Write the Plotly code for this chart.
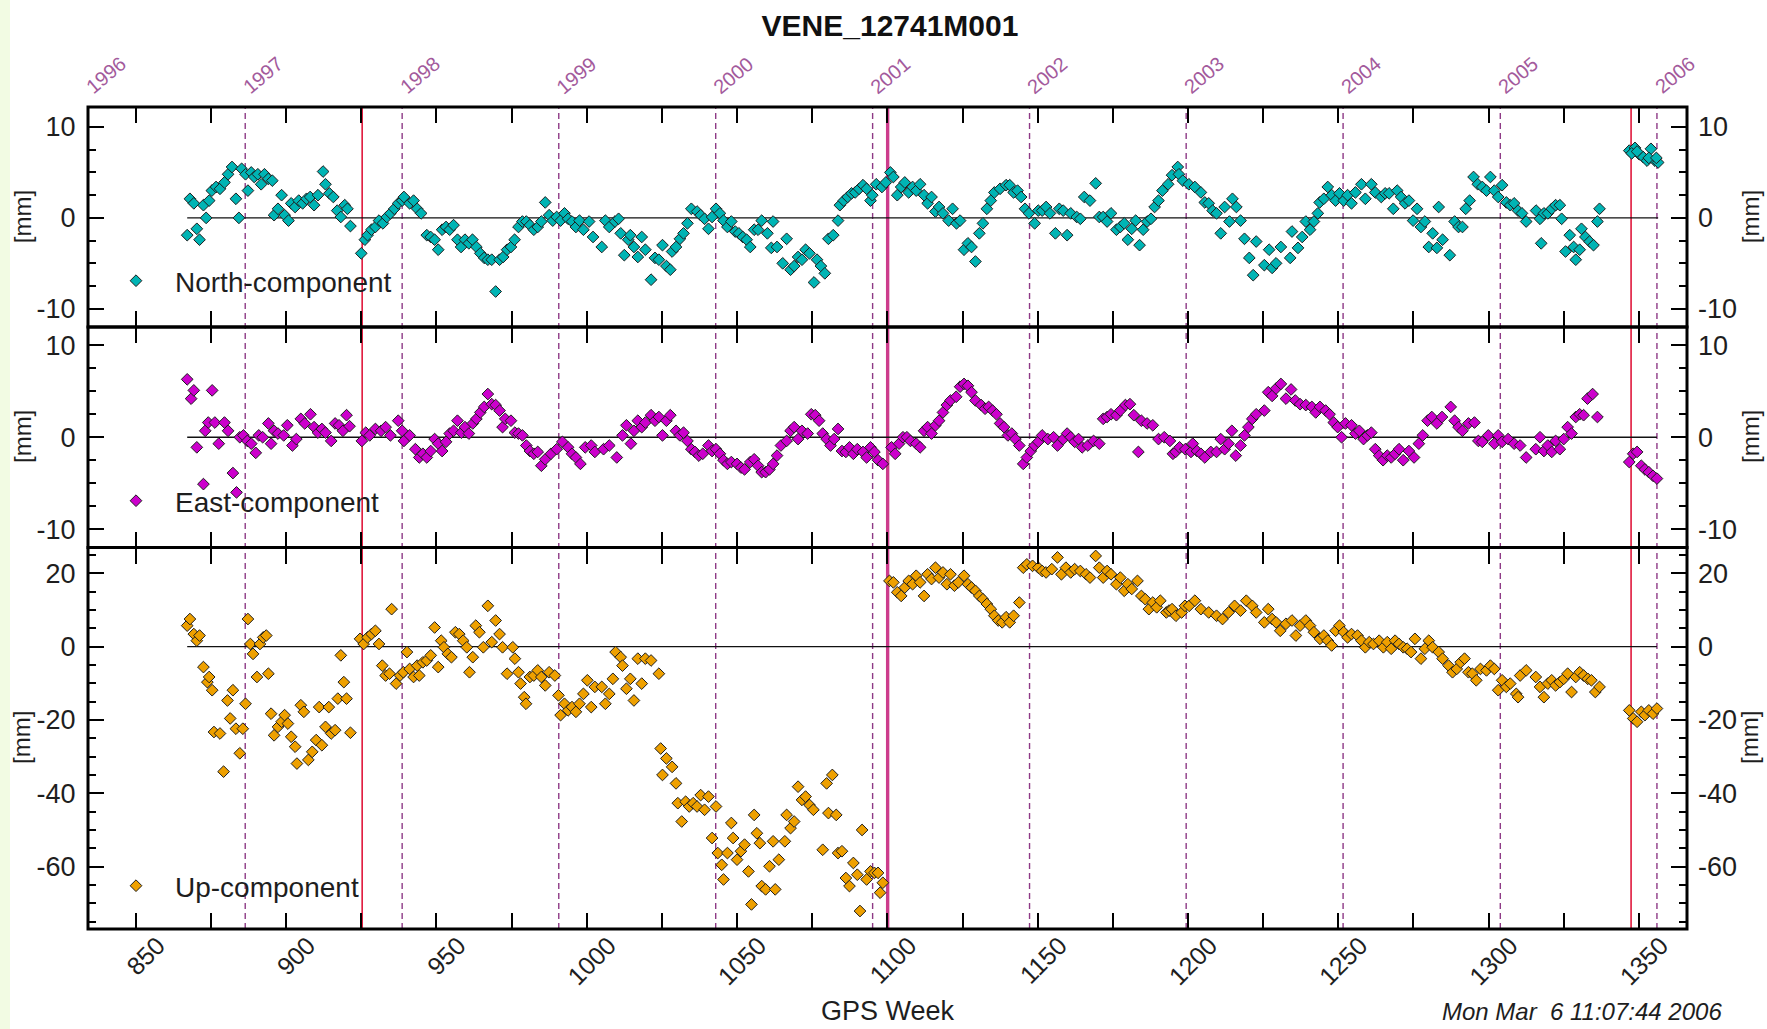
import plotly.graph_objects as go

# ---------------- text ----------------
title_text = "VENE_12741M001"
timestamp_text = "Mon Mar\u00a0 6 11:07:44 2006"
x_title = "GPS Week"
y_unit = "[mm]"
legend_names = ["North-component", "East-component", "Up-component"]

# ---------------- axes / reference lines ----------------
week_range = [834.1, 1366.0]
north_range = [-12.0, 12.2]
east_range = [-12.0, 12.0]
up_range = [-77.0, 27.0]
ne_ticks = [-10, 0, 10]
ne_ticktext = ["-10", "0", "10"]
up_ticks = [-60, -40, -20, 0, 20]
up_ticktext = ["-60", "-40", "-20", "0", "20"]
year_labels = ["1996", "1997", "1998", "1999", "2000", "2001", "2002", "2003", "2004", "2005", "2006"]
year_start_week = [834.1, 886.4, 938.6, 990.7, 1042.9, 1095.1, 1147.3, 1199.4, 1251.6, 1303.9, 1356.0]
event_week_thin = [925.3, 1347.4]
event_week_thick = [1100.1]

# ---------------- data (GPS week, mm) ----------------
north_week = [
    867.1, 868.0, 869.3, 870.3, 871.2, 872.5, 873.4, 874.4, 875.3, 876.7,
    878.0, 879.5, 880.7, 882.0, 883.3, 884.3, 885.2, 886.5, 887.3, 888.4,
    889.4, 890.6, 891.7, 892.8, 894.1, 895.4, 896.0, 897.3, 898.5, 899.5,
    900.8, 901.7, 903.0, 904.2, 905.5, 906.8, 908.0, 909.3, 910.6, 912.3,
    913.1, 914.4, 915.7, 917.0, 918.2, 919.5, 920.4, 921.4, 925.0, 926.2,
    927.1, 928.4, 929.7, 930.9, 932.2, 933.5, 934.7, 936.0, 937.3, 938.6,
    939.2, 941.1, 942.4, 943.6, 944.9, 946.8, 948.1, 949.4, 950.6, 951.9,
    953.2, 954.4, 955.7, 957.0, 958.2, 959.5, 960.8, 962.0, 963.3, 964.6,
    965.9, 967.1, 968.4, 969.7, 971.0, 972.2, 973.5, 974.8, 976.0, 977.3,
    978.6, 979.9, 981.1, 982.4, 983.7, 984.9, 986.2, 987.5, 988.7, 990.0,
    991.3, 992.6, 993.8, 995.1, 996.4, 997.6, 998.9, 1000.8, 1002.1, 1005.0,
    1006.2, 1007.5, 1009.4, 1010.6, 1011.3, 1012.5, 1013.8, 1014.5, 1015.7, 1017.0,
    1018.3, 1019.5, 1021.4, 1022.7, 1024.0, 1025.2, 1026.5, 1027.8, 1028.4, 1029.7,
    1031.0, 1032.2, 1033.5, 1034.8, 1036.7, 1037.9, 1039.2, 1040.5, 1041.7, 1043.0,
    1044.3, 1045.5, 1046.8, 1048.1, 1049.4, 1050.6, 1051.9, 1053.2, 1054.4, 1055.7,
    1057.0, 1058.2, 1060.1, 1061.4, 1062.0, 1063.3, 1065.2, 1066.5, 1067.8, 1069.0,
    1070.3, 1071.6, 1072.8, 1074.1, 1075.6, 1076.6, 1077.9, 1079.2, 1080.4, 1082.0,
    1083.6, 1084.2, 1085.5, 1086.8, 1088.1, 1089.3, 1090.6, 1091.9, 1093.1, 1094.4,
    1095.0, 1096.3, 1098.2, 1099.5, 1101.0, 1102.0, 1103.3, 1104.6, 1105.8, 1107.1,
    1108.4, 1109.6, 1110.9, 1112.2, 1113.4, 1114.7, 1116.0, 1117.2, 1118.5, 1120.4,
    1121.7, 1123.0, 1124.2, 1125.5, 1126.8, 1128.0, 1129.3, 1130.6, 1131.8, 1133.1,
    1134.4, 1135.6, 1137.5, 1139.5, 1140.7, 1142.0, 1143.3, 1144.5, 1145.8, 1147.1,
    1149.0, 1150.2, 1151.5, 1152.8, 1154.1, 1155.9, 1157.2, 1158.5, 1159.8, 1161.0,
    1163.0, 1164.2, 1165.5, 1167.4, 1169.3, 1170.5, 1171.8, 1173.1, 1174.4, 1176.2,
    1177.5, 1178.8, 1180.0, 1181.3, 1182.6, 1183.9, 1185.1, 1186.4, 1187.7, 1188.9,
    1190.2, 1191.5, 1193.4, 1194.7, 1196.6, 1197.0, 1198.3, 1200.3, 1202.3, 1204.3,
    1205.6, 1206.9, 1208.2, 1209.5, 1210.9, 1212.2, 1213.8, 1214.8, 1216.1, 1217.5,
    1218.8, 1220.4, 1221.7, 1222.7, 1225.4, 1227.0, 1228.0, 1229.3, 1230.9, 1234.0,
    1234.6, 1236.6, 1238.0, 1239.2, 1240.6, 1241.9, 1243.2, 1243.8, 1245.2, 1246.5,
    1247.8, 1249.1, 1250.4, 1251.8, 1253.1, 1254.4, 1255.7, 1257.7, 1259.0, 1261.0,
    1262.3, 1264.3, 1265.6, 1266.9, 1268.3, 1269.6, 1270.9, 1272.2, 1273.5, 1274.9,
    1276.2, 1277.5, 1278.8, 1280.1, 1281.4, 1282.8, 1283.4, 1284.7, 1287.1, 1288.7,
    1290.0, 1291.3, 1292.4, 1293.7, 1295.0, 1296.4, 1297.9, 1299.3, 1300.6, 1301.9,
    1303.2, 1304.5, 1305.9, 1307.2, 1308.5, 1309.8, 1311.1, 1312.5, 1315.8, 1317.1,
    1317.5, 1318.4, 1319.7, 1321.0, 1322.3, 1323.7, 1324.3, 1325.6, 1327.0, 1328.3,
    1329.0, 1330.3, 1330.9, 1332.2, 1333.6, 1334.9, 1336.2, 1336.9, 1346.8, 1348.7,
    1350.1, 1351.4, 1352.7, 1354.0, 1355.3, 1356.4, 1347.6, 1349.4, 1353.3, 1355.8,
]
north_mm = [
    -1.9, 2.1, 1.6, -1.2, -2.4, 1.4, 0.0, 1.9, 3.0, 3.4,
    3.2, 3.9, 4.8, 5.6, 2.1, 0.0, 5.4, 4.8, 3.0, 5.0,
    4.5, 4.8, 3.7, 4.8, 4.3, 4.1, 0.3, 1.0, 2.5, 0.3,
    -0.3, 1.6, 1.2, 1.9, 1.6, 2.1, 2.3, 1.4, 2.5, 5.1,
    3.7, 2.7, 2.3, 0.8, 0.1, 1.4, 1.0, -0.9, -3.9, -2.4,
    -1.9, -1.3, -1.0, -0.3, -0.6, 0.1, 0.5, 1.0, 1.6, 1.9,
    2.3, 1.6, 1.9, 1.0, 0.5, -1.9, -2.1, -2.4, -3.5, -1.3,
    -1.0, -1.3, -0.8, -2.4, -3.2, -2.4, -2.8, -2.4, -3.2, -3.9,
    -4.4, -4.6, -4.6, -8.1, -4.6, -4.3, -3.5, -3.2, -2.4, -1.0,
    -0.4, -0.4, -0.8, -1.3, -1.0, -0.4, 1.7, 0.3, -0.3, 0.1,
    -0.3, 0.5, -0.1, -0.4, -1.0, -0.3, -1.3, -0.4, -2.1, -3.2,
    -0.3, -1.0, -0.4, -0.1, -1.7, -4.1, -2.4, -1.9, -3.2, -4.3,
    -2.1, -3.5, -6.8, -4.4, -4.6, -3.0, -5.3, -5.7, -3.7, -3.2,
    -2.3, -1.7, -0.6, 1.0, 0.7, 0.3, -0.1, -1.2, 0.1, 1.0,
    0.5, -0.3, -1.0, -0.4, -1.5, -1.7, -2.1, -2.4, -3.2, -1.3,
    -1.3, -0.3, -1.7, -3.3, -0.4, -3.2, -5.0, -2.3, -5.7, -5.3,
    -4.3, -4.6, -3.5, -3.9, -7.1, -4.6, -5.3, -6.1, -2.3, -1.9,
    -0.3, 1.4, 1.9, 2.3, 2.7, 2.8, 3.2, 3.6, 3.2, 1.9,
    2.5, 3.7, 3.4, 3.9, 5.0, 4.5, 2.5, 3.4, 3.9, 2.8,
    3.4, 3.0, 3.7, 2.5, 1.6, 2.3, 0.7, 1.2, 0.5, -0.3,
    1.0, -0.6, -0.3, -3.5, -2.8, -3.2, -4.8, -1.7, -0.6, 1.0,
    1.9, 2.8, 3.2, 3.6, 3.6, 2.8, 3.0, 2.3, 1.0, 0.5,
    -0.6, 0.8, 0.8, 1.2, 0.5, -1.7, 1.0, 0.8, -1.9, 0.5,
    0.1, -0.1, 2.3, 1.9, 3.8, 0.1, 0.1, -0.4, 0.5, -1.3,
    -1.0, -0.6, -2.4, -1.2, -0.3, -3.0, -1.3, -0.4, -0.1, 1.2,
    1.9, 3.0, 3.7, 4.7, 5.6, 4.8, 4.1, 3.7, 3.4, 2.8,
    1.7, 1.6, 0.8, 0.5, -1.7, 1.2, -0.4, 2.1, 1.2, -0.3,
    -2.3, -4.4, -6.3, -2.6, -5.2, -3.5, -5.5, -5.0, -3.2, -4.4,
    -1.5, -3.3, -2.1, -0.4, -1.3, -0.4, 0.5, 1.7, 2.1, 3.4,
    2.5, 1.9, 2.7, 1.9, 2.5, 1.6, 2.8, 3.7, 2.1, 3.7,
    2.8, 2.3, 2.7, 2.7, 1.0, 3.0, 2.3, 1.6, 1.9, -0.3,
    1.0, -1.0, -0.4, -3.2, -1.7, -3.3, 1.2, -2.4, -4.1, -0.4,
    -1.0, -1.0, 1.0, 1.9, 4.5, 3.7, 3.4, 3.0, 4.5, 3.0,
    2.3, 3.6, 1.7, 1.4, 1.6, 0.8, 0.5, -0.4, 0.8, -0.1,
    -2.8, 0.5, 0.5, 1.0, 1.4, 1.4, -0.1, -3.7, -1.9, -3.2,
    -4.6, -3.5, -1.2, -2.1, -2.6, -3.0, -0.4, 1.0, 7.4, 7.7,
    7.0, 6.7, 6.3, 7.6, 6.3, 6.1, 7.1, 7.3, 6.6, 6.6,
]

east_week = [
    867.1, 868.4, 869.3, 870.3, 872.5, 873.1, 874.1, 875.4, 876.3, 877.6,
    879.5, 880.7, 882.3, 883.5, 884.6, 885.8, 887.1, 888.4, 889.9, 890.9,
    892.2, 894.1, 895.0, 896.0, 897.3, 899.2, 900.4, 902.1, 903.4, 904.9,
    906.2, 908.1, 909.3, 910.6, 911.9, 913.1, 915.0, 916.3, 917.6, 918.9,
    920.1, 921.1, 925.2, 926.5, 927.8, 929.7, 931.6, 933.1, 934.7, 937.3,
    938.6, 939.2, 941.1, 943.0, 944.3, 945.5, 946.8, 948.1, 949.4, 950.6,
    951.9, 953.2, 954.4, 955.7, 957.0, 958.3, 959.5, 960.8, 962.1, 963.3,
    964.6, 965.9, 967.1, 968.4, 969.7, 971.0, 972.0, 972.9, 974.8, 976.1,
    977.3, 978.6, 979.9, 981.1, 982.4, 983.7, 984.9, 986.2, 988.1, 990.0,
    991.9, 993.8, 995.1, 996.4, 997.9, 999.5, 1001.5, 1002.7, 1005.6, 1007.5,
    1010.0, 1011.9, 1013.2, 1014.7, 1015.7, 1017.0, 1018.3, 1019.5, 1021.4, 1022.7,
    1024.0, 1025.2, 1026.5, 1027.8, 1029.7, 1031.0, 1032.2, 1033.5, 1034.8, 1036.0,
    1037.3, 1038.6, 1040.5, 1041.7, 1043.0, 1044.3, 1045.5, 1046.8, 1048.1, 1050.0,
    1051.3, 1052.5, 1054.4, 1055.7, 1057.0, 1058.2, 1059.5, 1060.8, 1062.0, 1063.3,
    1064.6, 1066.5, 1067.8, 1069.0, 1070.3, 1071.6, 1073.5, 1074.7, 1076.0, 1077.3,
    1078.5, 1079.8, 1081.1, 1082.3, 1083.6, 1084.9, 1086.2, 1087.4, 1088.7, 1090.0,
    1091.9, 1093.1, 1094.4, 1095.7, 1096.9, 1098.5, 1101.4, 1102.6, 1103.9, 1105.2,
    1106.5, 1107.7, 1109.6, 1110.9, 1112.2, 1113.4, 1114.7, 1116.0, 1117.2, 1118.5,
    1119.8, 1121.0, 1122.9, 1124.2, 1125.5, 1126.8, 1128.0, 1129.3, 1131.2, 1132.5,
    1133.7, 1135.0, 1136.3, 1137.5, 1138.8, 1140.1, 1141.4, 1142.6, 1143.9, 1145.2,
    1146.4, 1147.7, 1149.0, 1150.2, 1151.5, 1153.4, 1155.3, 1156.6, 1158.5, 1159.8,
    1161.0, 1162.3, 1163.6, 1164.8, 1166.7, 1168.6, 1170.5, 1171.8, 1173.1, 1174.4,
    1176.2, 1177.5, 1179.2, 1180.7, 1182.0, 1183.5, 1184.5, 1186.4, 1188.3, 1190.2,
    1192.1, 1194.0, 1195.0, 1195.9, 1197.2, 1199.1, 1201.0, 1201.6, 1203.0, 1204.3,
    1205.6, 1207.6, 1209.5, 1210.9, 1212.2, 1213.5, 1214.6, 1215.9, 1217.5, 1218.8,
    1220.1, 1221.4, 1222.7, 1225.4, 1226.7, 1228.0, 1229.3, 1230.9, 1232.6, 1234.3,
    1235.7, 1237.3, 1239.2, 1241.2, 1242.5, 1243.9, 1245.8, 1247.1, 1248.5, 1249.8,
    1251.1, 1252.4, 1254.4, 1255.7, 1257.0, 1258.4, 1259.7, 1261.0, 1262.3, 1263.6,
    1264.9, 1266.3, 1267.6, 1268.9, 1270.2, 1271.6, 1273.5, 1275.2, 1276.8, 1278.1,
    1279.7, 1281.1, 1282.8, 1284.5, 1287.4, 1288.7, 1290.0, 1291.3, 1293.3, 1295.3,
    1296.6, 1297.9, 1299.9, 1301.9, 1303.2, 1304.5, 1306.5, 1308.5, 1310.5, 1312.5,
    1315.7, 1317.1, 1318.4, 1319.7, 1321.0, 1322.3, 1323.7, 1325.0, 1326.3, 1327.6,
    1329.0, 1330.3, 1331.6, 1332.9, 1334.6, 1336.2, 1346.8, 1348.1, 1349.4, 1350.8,
    1352.0, 1353.3, 1354.7, 1356.0,
]
east_mm = [
    6.3, 4.2, 5.1, -1.1, -5.1, 0.7, 1.6, 5.1, 1.6, -0.7,
    1.6, 0.7, -3.9, -6.0, 0.0, 0.2, -0.4, -0.7, -1.7, 0.2,
    0.0, 1.5, -0.7, 0.7, 0.4, 0.2, 1.3, -0.9, -0.2, 2.0,
    1.5, 2.5, 1.1, 0.5, 0.9, 0.5, -0.4, 1.5, 1.3, 0.7,
    2.4, 1.2, -0.4, 0.5, 0.2, 0.9, 0.7, 1.1, 0.2, 1.8,
    0.7, -0.4, 0.2, -1.3, -2.2, -1.8, -2.2, -1.5, -0.2, -0.7,
    -1.5, -0.5, 0.4, 0.7, 1.8, 0.5, 1.1, 0.4, 1.5, 2.0,
    2.7, 3.3, 4.7, 3.6, 3.5, 2.9, 1.1, 2.0, 1.8, 0.5,
    0.4, 0.2, -0.9, -1.5, -1.8, -1.6, -3.1, -2.4, -1.8, -1.3,
    -0.5, -1.1, -1.8, -2.2, -2.9, -1.1, -0.9, -1.6, -1.3, -0.9,
    -2.2, 0.2, 1.3, -0.7, 0.7, 1.8, 1.1, 1.6, 2.4, 1.8,
    2.2, 0.2, 1.8, 2.4, 0.7, 0.2, 0.5, -0.4, -1.3, -1.6,
    -2.0, -1.8, -0.9, -1.5, -1.3, -1.8, -2.5, -2.9, -2.7, -2.9,
    -3.3, -3.5, -2.7, -2.4, -3.1, -3.8, -3.8, -3.5, -2.9, -2.0,
    -0.9, -0.4, 0.7, 1.1, -0.2, 0.7, 0.4, 2.5, 2.4, 1.8,
    0.4, -0.2, -0.9, -0.2, 0.9, -1.5, -1.6, -1.1, -1.8, -1.3,
    -1.6, -2.2, -1.1, -1.6, -2.5, -2.9, -1.1, -1.8, -0.7, 0.0,
    0.0, -0.4, -0.7, -1.1, 0.7, 1.1, 0.4, 1.3, 1.8, 2.7,
    3.5, 4.0, 4.4, 5.5, 5.8, 5.6, 4.9, 4.0, 3.5, 3.1,
    3.3, 2.9, 2.5, 1.5, 1.1, 0.2, 0.4, -0.2, -0.9, -2.9,
    -2.2, -1.5, -0.9, -0.5, 0.2, -0.2, 0.0, -0.9, -0.2, 0.4,
    0.0, -0.5, -0.2, -1.1, -0.9, -0.4, -0.7, 2.0, 2.2, 2.5,
    2.4, 2.9, 3.5, 3.6, 2.4, -1.6, 1.8, 1.5, 1.3, -0.2,
    0.0, -0.4, -1.8, -1.6, -1.1, -1.3, -1.6, -0.7, -1.5, -1.8,
    -2.2, -1.6, -1.6, -0.2, -1.3, -0.7, 0.7, -2.0, -0.9, 0.2,
    1.1, 2.0, 2.5, 2.9, 4.9, 4.5, 5.3, 5.8, 4.2, 5.2,
    4.0, 3.6, 3.5, 3.3, 2.7, 3.3, 2.9, 2.5, 1.6, 1.1,
    0.0, 1.5, 1.3, 0.4, 0.7, -0.2, 0.2, 0.5, -1.3, -2.0,
    -2.5, -2.0, -2.2, -1.8, -1.3, -2.5, -1.5, -2.2, -0.7, 0.2,
    1.8, 2.2, 1.5, 2.2, 3.3, 1.8, 1.1, 0.7, 1.5, 1.6,
    -0.4, -0.5, 0.2, -0.7, 0.2, -0.5, -0.2, -0.7, -0.9, -2.2,
    -1.3, 0.0, -1.5, -0.9, -1.6, -0.4, -1.3, -0.2, 1.1, 0.4,
    2.2, 2.5, 2.4, 4.2, 4.7, 2.2, -2.7, -1.8, -1.6, -3.1,
    -3.5, -3.8, -4.2, -4.5,
]

up_week = [
    867.1, 868.0, 869.3, 870.3, 871.2, 872.5, 873.8, 874.4, 875.4, 876.0,
    878.0, 879.2, 880.5, 881.4, 882.3, 883.3, 884.6, 885.6, 886.5, 887.3,
    888.1, 889.0, 890.3, 891.3, 892.4, 893.4, 894.1, 895.0, 896.0, 897.3,
    898.5, 899.5, 900.6, 901.7, 903.0, 903.6, 904.9, 905.9, 907.4, 908.7,
    910.0, 911.0, 911.9, 913.1, 914.2, 915.0, 916.3, 917.2, 918.2, 919.2,
    920.1, 921.4, 924.6, 925.8, 927.1, 928.4, 929.7, 930.9, 932.0, 933.1,
    934.4, 935.1, 936.6, 937.9, 939.0, 940.2, 941.1, 942.4, 943.6, 944.3,
    945.5, 946.8, 948.1, 949.4, 950.6, 951.6, 952.5, 953.8, 955.0, 956.3,
    957.6, 958.9, 960.1, 961.0, 962.1, 963.1, 964.3, 965.6, 967.1, 968.4,
    969.7, 971.0, 972.0, 973.5, 975.4, 976.1, 977.3, 978.0, 979.2, 979.8,
    981.1, 982.4, 983.7, 984.9, 986.2, 987.5, 989.4, 990.6, 991.3, 992.6,
    993.8, 995.1, 996.4, 997.6, 998.9, 1000.2, 1001.5, 1002.7, 1005.0, 1006.2,
    1007.5, 1008.7, 1009.6, 1011.3, 1011.9, 1013.2, 1014.5, 1015.7, 1017.0, 1018.3,
    1019.5, 1021.4, 1024.0, 1024.6, 1025.2, 1026.5, 1028.4, 1029.7, 1030.3, 1031.6,
    1032.9, 1034.1, 1035.4, 1036.7, 1037.9, 1039.2, 1040.5, 1041.7, 1043.0, 1043.6,
    1044.9, 1045.5, 1046.8, 1048.1, 1048.7, 1050.0, 1051.3, 1052.5, 1053.8, 1054.8,
    1055.7, 1056.6, 1057.6, 1058.2, 1059.5, 1060.8, 1062.0, 1062.7, 1063.9, 1065.9,
    1066.5, 1067.8, 1069.0, 1070.3, 1071.6, 1072.8, 1074.1, 1075.4, 1078.5, 1079.8,
    1080.4, 1081.7, 1083.0, 1083.6, 1084.9, 1086.2, 1087.4, 1088.7, 1090.0, 1090.9,
    1091.6, 1093.1, 1094.4, 1095.7, 1096.9, 1097.6, 1098.5, 1100.7, 1102.0, 1103.3,
    1104.6, 1105.8, 1107.1, 1108.4, 1109.6, 1110.9, 1112.2, 1113.4, 1114.7, 1116.0,
    1117.2, 1118.5, 1119.8, 1121.0, 1122.3, 1123.6, 1125.5, 1126.8, 1128.0, 1129.3,
    1130.6, 1131.8, 1133.1, 1134.4, 1135.6, 1136.9, 1138.2, 1139.5, 1140.7, 1142.0,
    1143.9, 1145.2, 1146.4, 1148.3, 1150.2, 1151.5, 1152.8, 1154.7, 1156.6, 1157.9,
    1159.4, 1161.0, 1162.3, 1164.2, 1166.1, 1167.4, 1169.3, 1170.5, 1171.8, 1173.1,
    1174.4, 1176.2, 1177.5, 1178.8, 1180.0, 1181.3, 1183.2, 1184.5, 1185.8, 1187.0,
    1188.3, 1189.6, 1190.8, 1192.8, 1193.7, 1194.7, 1196.0, 1197.9, 1199.0, 1200.4,
    1202.3, 1204.3, 1206.9, 1209.5, 1211.5, 1213.5, 1215.5, 1217.5, 1219.4, 1221.4,
    1222.7, 1225.4, 1226.7, 1228.0, 1229.3, 1230.7, 1232.6, 1234.6, 1235.9, 1237.3,
    1239.2, 1240.6, 1241.9, 1243.9, 1245.2, 1246.5, 1247.8, 1249.1, 1250.4, 1251.8,
    1253.1, 1254.4, 1256.4, 1257.7, 1259.0, 1260.3, 1261.7, 1263.6, 1265.0, 1266.3,
    1267.6, 1268.9, 1270.2, 1271.6, 1272.9, 1274.2, 1275.5, 1277.5, 1278.8, 1280.1,
    1281.4, 1283.4, 1284.7, 1286.7, 1288.0, 1289.4, 1290.7, 1292.0, 1293.3, 1294.6,
    1295.9, 1297.3, 1299.3, 1300.6, 1301.9, 1303.2, 1304.5, 1305.9, 1307.2, 1309.2,
    1309.8, 1310.5, 1312.5, 1315.7, 1317.1, 1318.4, 1319.7, 1321.0, 1322.3, 1323.7,
    1325.0, 1326.3, 1327.6, 1329.0, 1330.3, 1331.6, 1333.0, 1334.2, 1335.5, 1336.9,
    1346.8, 1348.1, 1349.4, 1350.8, 1352.0, 1353.3, 1354.7, 1356.0,
]
up_mm = [
    5.7, 7.5, 3.4, 1.6, 3.0, -5.6, -9.7, -8.3, -11.9, -23.3,
    -23.7, -34.1, -14.7, -19.6, -11.9, -22.4, -29.1, -22.4, -15.6, 7.5,
    0.7, -2.0, -8.3, 0.7, 2.5, 3.0, -7.4, -18.3, -24.2, -21.9,
    -20.5, -18.7, -21.0, -24.6, -27.3, -31.9, -16.0, -17.8, -30.9, -28.7,
    -25.5, -16.5, -26.9, -21.9, -16.5, -23.7, -22.8, -14.2, -2.4, -9.7,
    -14.2, -23.5, 2.1, 0.7, 2.5, 3.4, 4.3, 0.7, -5.2, -7.9,
    -7.4, 10.2, -10.1, -7.9, -7.0, -1.5, -6.1, -8.3, -5.2, -7.9,
    -4.3, -3.8, -2.4, 5.2, -5.6, 1.6, -0.2, -2.0, -2.9, 3.9,
    3.4, 1.6, -0.2, -7.0, -2.9, 5.7, 3.9, -0.2, 11.1, 1.2,
    7.1, 3.4, -0.2, -7.4, -0.2, -3.3, -7.0, -10.1, -13.8, -15.6,
    -8.3, -7.9, -6.5, -8.3, -10.6, -7.0, -7.9, -13.3, -18.7, -15.6,
    -17.4, -16.5, -17.8, -15.6, -12.9, -9.2, -16.5, -11.0, -11.0, -15.6,
    -12.9, -8.8, -1.5, -2.9, -5.2, -11.5, -8.8, -14.7, -3.3, -10.1,
    -3.3, -3.8, -7.4, -27.8, -35.0, -30.5, -32.8, -37.3, -42.7, -47.7,
    -42.3, -43.6, -42.7, -43.6, -40.5, -44.5, -40.9, -52.2, -43.6, -56.3,
    -59.5, -63.5, -56.3, -48.1, -52.2, -58.1, -55.8, -54.0, -61.3, -70.3,
    -45.9, -50.9, -53.6, -65.3, -66.2, -59.9, -53.1, -66.2, -58.1, -53.1,
    -45.9, -49.5, -47.7, -38.2, -41.8, -40.9, -43.2, -44.5, -55.4, -37.3,
    -45.4, -35.0, -45.9, -56.3, -55.8, -63.1, -65.3, -59.0, -62.2, -72.1,
    -50.0, -63.5, -61.3, -61.7, -61.7, -67.1, -64.4, 17.9, 17.5, 14.8,
    13.8, 16.1, 17.9, 17.0, 19.3, 17.5, 13.8, 19.7, 18.4, 21.5,
    18.8, 20.2, 17.0, 19.7, 16.6, 17.5, 19.3, 17.0, 16.1, 15.2,
    13.8, 12.9, 11.6, 10.2, 8.4, 7.1, 6.6, 8.0, 6.6, 8.4,
    12.0, 21.5, 22.4, 22.0, 21.5, 20.6, 20.2, 21.1, 24.3, 19.7,
    21.5, 20.2, 21.1, 20.6, 19.7, 18.8, 24.7, 21.5, 18.8, 20.6,
    19.7, 17.0, 18.8, 15.2, 17.0, 15.7, 17.9, 13.8, 12.9, 10.2,
    12.0, 10.7, 12.5, 9.3, 9.8, 10.2, 8.4, 9.3, 11.1, 11.1,
    12.5, 10.2, 9.3, 8.4, 7.5, 9.3, 11.1, 9.8, 12.5, 11.1,
    9.3, 6.6, 10.2, 7.5, 6.6, 4.3, 6.2, 7.1, 3.0, 5.7,
    7.1, 5.7, 3.9, 2.1, 3.0, 1.6, 0.3, 4.3, 5.7, 3.9,
    2.5, 3.4, 3.0, 1.6, -0.2, 1.2, 0.7, 1.6, -0.2, 1.2,
    -0.6, 1.6, 0.7, -0.2, -0.6, -1.5, 2.1, -3.3, -0.6, 1.6,
    -0.2, -1.5, -3.3, -5.2, -7.0, -6.1, -4.3, -3.3, -7.0, -7.4,
    -9.2, -6.1, -6.5, -5.2, -6.1, -11.9, -9.2, -11.0, -10.1, -12.9,
    -13.8, -7.9, -6.5, -8.3, -11.0, -13.8, -10.1, -9.2, -10.6, -9.7,
    -8.8, -7.4, -12.4, -8.3, -7.0, -7.9, -8.8, -9.2, -12.4, -11.0,
    -17.4, -19.6, -20.5, -17.8, -18.7, -17.4, -18.3, -16.9,
]

assert len(north_week) == len(north_mm)
assert len(east_week) == len(east_mm)
assert len(up_week) == len(up_mm)

# ---------------- styling ----------------
FONT = "Liberation Sans, Arial, Helvetica, sans-serif"
TXT = "#1e1e1e"
north_color = "#00b4b4"
east_color = "#cc00cc"
up_color = "#eea000"
edge_color = "#1e1e1e"
year_line_color = "#8e3a86"
year_text_color = "#a35a9c"
event_color = "#e0183c"
event_thick_color = "#cc3c8c"

W, H = 1767, 1029
ML, MR, MT, MB = 88, 80, 107, 100
PW, PH = W - ML - MR, H - MT - MB
dom_up = [0.0, 0.4641]
dom_east = [0.4641, 0.7324]
dom_north = [0.7324, 1.0]

fig = go.Figure()

panels = [
    ("y3", "y6", "x3", north_week, north_mm, north_color, legend_names[0], "legend"),
    ("y2", "y5", "x2", east_week, east_mm, east_color, legend_names[1], "legend2"),
    ("y", "y4", "x", up_week, up_mm, up_color, legend_names[2], "legend3"),
]
for yref, yright, xref, wk, mm, col, name, leg in panels:
    # zero line over the span of the data
    fig.add_trace(go.Scatter(
        x=[min(wk), max(wk)], y=[0, 0], mode="lines", xaxis=xref, yaxis=yref,
        line=dict(color="#111111", width=1.3), showlegend=False, hoverinfo="skip"))
    fig.add_trace(go.Scatter(
        x=wk, y=mm, mode="markers", name=name, xaxis=xref, yaxis=yref, legend=leg,
        marker=dict(symbol="diamond", size=9, color=col,
                    line=dict(color=edge_color, width=1))))
    # same series bound to the right-hand axis (invisible) so its labels are drawn
    fig.add_trace(go.Scatter(
        x=wk, y=mm, mode="markers", xaxis=xref, yaxis=yright, showlegend=False,
        hoverinfo="skip", marker=dict(size=1, opacity=0)))

axis_line = dict(showline=True, linecolor="rgba(0,0,0,0)", linewidth=1, mirror="allticks",
                 ticks="inside", tickcolor="black", tickwidth=1.6, ticklen=16,
                 showgrid=False, zeroline=False)

x_common = dict(axis_line, range=week_range, tick0=850, dtick=50,
                minor=dict(dtick=25, tick0=850, ticks="inside", ticklen=9,
                           tickcolor="black", tickwidth=1.6, showgrid=False))

fig.update_layout(
    xaxis=dict(x_common, anchor="y", showticklabels=True, tickangle=-45,
               tickfont=dict(family=FONT, size=25, color=TXT),
               ticklabelshift=22, ticklabelstandoff=-9),
    xaxis2=dict(x_common, anchor="y2", matches="x", showticklabels=False),
    xaxis3=dict(x_common, anchor="y3", matches="x", showticklabels=False),
)

def y_left(domain, rng, tickvals, ticktext, minor_dtick, anchor):
    return dict(axis_line, domain=domain, range=rng, tickvals=tickvals, ticktext=ticktext,
                anchor=anchor, tickfont=dict(family=FONT, size=27, color=TXT),
                ticklabelstandoff=6,
                minor=dict(dtick=minor_dtick, tick0=0, ticks="inside", ticklen=8,
                           tickcolor="black", tickwidth=1.6, showgrid=False))

def y_right(over, rng, tickvals, ticktext, anchor):
    return dict(overlaying=over, side="right", range=rng, tickvals=tickvals,
                ticktext=ticktext, anchor=anchor,
                showline=False, ticks="", showgrid=False, zeroline=False,
                tickfont=dict(family=FONT, size=27, color=TXT),
                ticklabelstandoff=10)

fig.update_layout(
    yaxis=y_left(dom_up, up_range, up_ticks, up_ticktext, 5, "x"),
    yaxis2=y_left(dom_east, east_range, ne_ticks, ne_ticktext, 2.5, "x2"),
    yaxis3=y_left(dom_north, north_range, ne_ticks, ne_ticktext, 2.5, "x3"),
    yaxis4=y_right("y", up_range, up_ticks, up_ticktext, "x"),
    yaxis5=y_right("y2", east_range, ne_ticks, ne_ticktext, "x2"),
    yaxis6=y_right("y3", north_range, ne_ticks, ne_ticktext, "x3"),
)

shapes = []
# light page strip on the left
shapes.append(dict(type="rect", xref="paper", yref="paper",
                   x0=-ML / PW, x1=-(ML - 10) / PW, y0=-MB / PH, y1=1 + MT / PH,
                   fillcolor="#f2fbe3", line=dict(width=0), layer="below"))
for wk in year_start_week:
    shapes.append(dict(type="line", xref="x", yref="paper", x0=wk, x1=wk, y0=0, y1=1,
                       line=dict(color=year_line_color, width=1.4, dash="6px,4px"),
                       layer="below"))
for wk in event_week_thin:
    shapes.append(dict(type="line", xref="x", yref="paper", x0=wk, x1=wk, y0=0, y1=1,
                       line=dict(color=event_color, width=1.6), layer="below"))
for wk in event_week_thick:
    shapes.append(dict(type="line", xref="x", yref="paper", x0=wk, x1=wk, y0=0, y1=1,
                       line=dict(color=event_thick_color, width=3.4), layer="below"))
# panel frames (shared edges between the stacked panels)
for dom in (dom_north, dom_east, dom_up):
    shapes.append(dict(type="rect", xref="paper", yref="paper", x0=0, x1=1,
                       y0=dom[0], y1=dom[1], line=dict(color="black", width=3),
                       fillcolor="rgba(0,0,0,0)", layer="above"))
fig.update_layout(shapes=shapes)

annotations = []
for lab, wk in zip(year_labels, year_start_week):
    annotations.append(dict(x=wk, y=1, xref="x", yref="paper", text=lab, showarrow=False,
                            textangle=-40, xanchor="left", yanchor="bottom",
                            xshift=-9, yshift=6,
                            font=dict(family=FONT, size=20, color=year_text_color)))
annotations.append(dict(x=0.5, y=-0.0998, xref="paper", yref="paper", text=x_title,
                        showarrow=False, xanchor="center", yanchor="middle",
                        font=dict(family=FONT, size=27, color=TXT)))
annotations.append(dict(x=(1724 - ML) / PW, y=(H - MB - 1027) / PH, xref="paper",
                        yref="paper", text="<i>" + timestamp_text + "</i>", showarrow=False,
                        xanchor="right", yanchor="bottom",
                        font=dict(family=FONT, size=24, color=TXT)))
for yc in [0.866, 0.5985, 0.2324]:
    annotations.append(dict(x=(22 - ML) / PW, y=yc, xref="paper", yref="paper", text=y_unit,
                            showarrow=False, textangle=-90, xanchor="center", yanchor="middle",
                            font=dict(family=FONT, size=24, color=TXT)))
    annotations.append(dict(x=(1750 - ML) / PW, y=yc, xref="paper", yref="paper", text=y_unit,
                            showarrow=False, textangle=-90, xanchor="center", yanchor="middle",
                            font=dict(family=FONT, size=24, color=TXT)))
fig.update_layout(annotations=annotations)

leg_common = dict(xanchor="left", yanchor="middle", bgcolor="rgba(0,0,0,0)",
                  borderwidth=0, itemwidth=68,
                  font=dict(family=FONT, size=28, color=TXT))
fig.update_layout(
    legend=dict(leg_common, x=(97 - ML) / PW, y=(H - MB - 281) / PH),
    legend2=dict(leg_common, x=(97 - ML) / PW, y=(H - MB - 501) / PH),
    legend3=dict(leg_common, x=(97 - ML) / PW, y=(H - MB - 886) / PH),
)

fig.update_layout(
    width=W, height=H,
    margin=dict(l=ML, r=MR, t=MT, b=MB, pad=0),
    paper_bgcolor="white", plot_bgcolor="white",
    title=dict(text="<b>" + title_text + "</b>", x=890 / W, xanchor="center",
               y=1 - 25 / H, yanchor="middle",
               font=dict(family=FONT, size=30, color="#111111")),
    showlegend=True,
    font=dict(family=FONT),
)

fig.write_html("out.html")
